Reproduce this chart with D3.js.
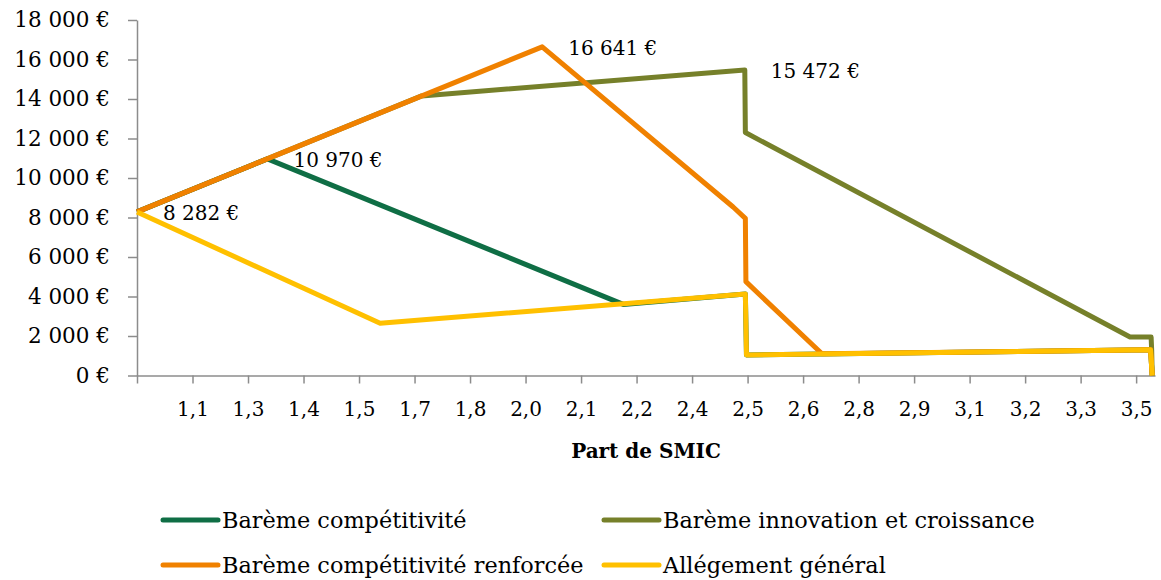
<!DOCTYPE html>
<html>
<head>
<meta charset="utf-8">
<script src="https://cdn.jsdelivr.net/npm/d3@7"></script>
<style>
  body { margin: 0; background: #fff; }
  svg text { font-family: "DejaVu Serif", serif; fill: #000; }
</style>
</head>
<body>
<div id="main"></div>
<script>
// tick labels on the category axis (one per tick, the first tick has none)
const categories = ['1,1', '1,3', '1,4', '1,5', '1,7', '1,8', '2,0', '2,1', '2,2',
  '2,4', '2,5', '2,6', '2,8', '2,9', '3,1', '3,2', '3,3', '3,5'];

// series: [position on category axis, euros]
const competitivite = [[0, 8282], [2.35, 10970], [8.76, 3600], [10.96, 4130],
  [10.98, 1040], [18.26, 1300], [18.29, 0]];
const innovation = [[0, 8282], [5.13, 14156], [10.95, 15472], [10.96, 12300],
  [17.89, 1950], [18.27, 1950], [18.28, 1300], [18.29, 0]];
const renforcee = [[0, 8282], [7.30, 16641], [10.74, 8530], [10.96, 7960],
  [10.97, 4750], [12.34, 1100], [18.26, 1300], [18.29, 0]];
const allegement = [[0, 8282], [4.38, 2643], [10.96, 4130], [10.98, 1040],
  [18.26, 1300], [18.29, 0]];

const seriesNames = ['Barème compétitivité', 'Barème innovation et croissance',
  'Barème compétitivité renforcée', 'Allégement général'];
const seriesColors = ['#0f6e45', '#76802a', '#f08100', '#ffc000'];
const seriesData = [competitivite, innovation, renforcee, allegement];

// data labels: [series index, point index]
const labelled = [[3, 0], [0, 1], [2, 1], [1, 2]];

const yTicks = [0, 2000, 4000, 6000, 8000, 10000, 12000, 14000, 16000, 18000];

const width = 1161;
const height = 580;
const margin = { top: 20, right: 6, bottom: 204.5, left: 137 };
const chartWidth = width - margin.left - margin.right;
const chartHeight = height - margin.top - margin.bottom;

const euro = (v) => d3.format(',')(v).replace(/,/g, ' ') + ' €';

const svg = d3.select('#main')
  .append('svg')
  .attr('width', width)
  .attr('height', height);

const xScale = d3.scaleLinear()
  .domain([0, 18.34])
  .range([0, chartWidth]);

const yScale = d3.scaleLinear()
  .domain([0, 18000])
  .range([chartHeight, 0]);

const chart = svg.append('g')
  .attr('transform', `translate(${margin.left}, ${margin.top})`);

// axes
const yAxis = chart.append('g')
  .call(d3.axisLeft(yScale)
    .tickValues(yTicks)
    .tickFormat(euro)
    .tickSize(9)
    .tickSizeOuter(0)
    .tickPadding(18));
yAxis.selectAll('text').style('font-size', '21.5px');

const xAxis = chart.append('g')
  .attr('transform', `translate(0, ${chartHeight})`)
  .call(d3.axisBottom(xScale)
    .tickValues(d3.range(0, categories.length + 1))
    .tickFormat((i) => (i === 0 ? '' : categories[i - 1]))
    .tickSize(8)
    .tickSizeOuter(0)
    .tickPadding(18));
xAxis.selectAll('text').style('font-size', '20px');

[yAxis, xAxis].forEach((a) => {
  a.select('.domain').attr('stroke', '#8c8c8c').attr('stroke-width', 1.5);
  a.selectAll('.tick line').attr('stroke', '#8c8c8c').attr('stroke-width', 1.5);
});

chart.append('text')
  .attr('x', 646 - margin.left)
  .attr('y', chartHeight + 82)
  .attr('text-anchor', 'middle')
  .style('font-size', '20px')
  .style('font-weight', 'bold')
  .text('Part de SMIC');

// lines
const line = d3.line()
  .x((d) => xScale(d[0]))
  .y((d) => yScale(d[1]));

chart.selectAll('path.series')
  .data(seriesData)
  .enter()
  .append('path')
  .attr('class', 'series')
  .attr('fill', 'none')
  .attr('stroke', (d, i) => seriesColors[i])
  .attr('stroke-width', 5)
  .attr('stroke-linejoin', 'round')
  .attr('d', line);

// data labels
chart.selectAll('text.dlabel')
  .data(labelled)
  .enter()
  .append('text')
  .attr('class', 'dlabel')
  .attr('x', (d) => xScale(seriesData[d[0]][d[1]][0]) + 26)
  .attr('y', (d) => yScale(seriesData[d[0]][d[1]][1]) + 8)
  .style('font-size', '20px')
  .text((d) => euro(seriesData[d[0]][d[1]][1]));

// legend
const legend = svg.append('g')
  .selectAll('g')
  .data(seriesNames)
  .enter()
  .append('g')
  .attr('transform', (d, i) => `translate(${i % 2 === 0 ? 163 : 604}, ${i < 2 ? 520 : 565})`);

legend.append('line')
  .attr('x1', 0)
  .attr('x2', 55)
  .attr('stroke', (d, i) => seriesColors[i])
  .attr('stroke-width', 5)
  .attr('stroke-linecap', 'round');

legend.append('text')
  .attr('x', 59)
  .attr('dy', '0.35em')
  .style('font-size', '22.4px')
  .text((d) => d);
</script>
</body>
</html>
